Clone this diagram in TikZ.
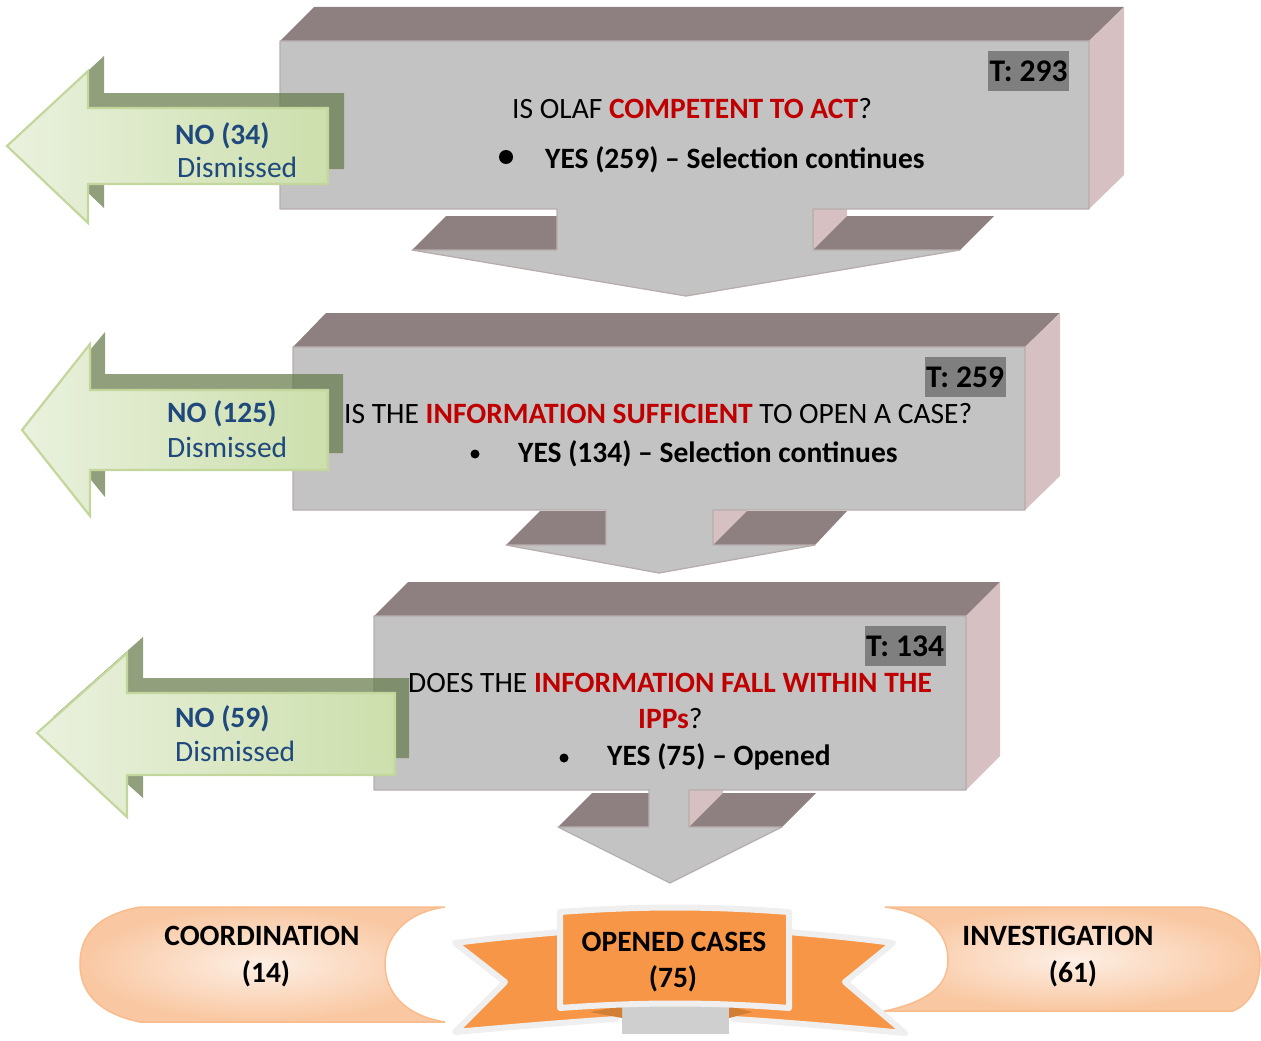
\documentclass[tikz,border=0pt]{standalone}
\usepackage{fontspec}
\setmainfont{Carlito}
\definecolor{boxfront}{HTML}{C3C3C3}
\definecolor{boxtop}{HTML}{8E8080}
\definecolor{boxside}{HTML}{D6C0C1}
\definecolor{boxedge}{HTML}{B8ADAD}
\definecolor{tgray}{HTML}{7F7F7F}
\definecolor{qred}{HTML}{C00000}
\definecolor{nblue}{HTML}{1F497D}
\definecolor{gl}{HTML}{EAF1DE}
\definecolor{gr}{HTML}{CCDFAC}
\definecolor{gb}{HTML}{C3D69B}
\definecolor{gsh}{HTML}{667A4B}
\definecolor{rorange}{HTML}{F79646}
\definecolor{rdark}{HTML}{D27E34}
\definecolor{rwhite}{HTML}{EFEFEF}
\definecolor{rgray}{HTML}{CFCFCF}
\definecolor{pin}{HTML}{FDEFE5}
\definecolor{pout}{HTML}{F9C7A1}
\definecolor{pedge}{HTML}{F9BC8C}
\begin{document}
\begin{tikzpicture}[x=1pt,y=-1pt,
  front/.style={fill=boxfront, draw=boxedge, line width=1.3pt, line join=round},
  topface/.style={fill=boxtop},
  sideface/.style={fill=boxside},
  garrow/.style={left color=gl, right color=gr, draw=gb, line width=2.2pt, line join=miter},
  gshadow/.style={fill=gsh, fill opacity=0.72},
  txt/.style={font=\fontsize{29.5}{35}\selectfont, anchor=base west, inner sep=0pt},
  btxt/.style={font=\fontsize{29.5}{35}\selectfont\bfseries, anchor=base west, inner sep=0pt},
  ctxt/.style={font=\fontsize{29.5}{35}\selectfont\bfseries, anchor=base, inner sep=0pt},
  tlabel/.style={font=\fontsize{31.5}{36}\selectfont\bfseries, fill=tgray, minimum width=81pt, minimum height=40pt, inner sep=0pt},
  notext/.style={font=\fontsize{29.5}{35}\selectfont, anchor=base west, inner sep=0pt, text=nblue},
  nobold/.style={notext, font=\fontsize{29.5}{35}\selectfont\bfseries},
  wing/.style={fill=rorange, draw=rwhite, line width=6pt, line join=round},
  scroll/.style={shading=radial, inner color=pin, outer color=pout, draw=pedge, line width=1.5pt},
  bul/.style={fill=black}
]
\useasboundingbox (0,0) rectangle (1261,1041);

% ---------- Box 1 ----------
\fill[topface] (280,41) -- (314,7) -- (1124,7) -- (1089,41) -- cycle;
\fill[sideface] (1089,41) -- (1124,7) -- (1124,175) -- (1089,209) -- cycle;
\fill[sideface] (813,209) -- (847,175) -- (847,216) -- (813,250) -- cycle;
\fill[topface] (412,250) -- (446,216) -- (557,216) -- (557,250) -- cycle;
\fill[topface] (813,250) -- (847,216) -- (994,216) -- (960,250) -- cycle;
\draw[front] (280,41) -- (1089,41) -- (1089,209) -- (813,209) -- (813,250) -- (960,250) -- (686,296) -- (412,250) -- (557,250) -- (557,209) -- (280,209) -- cycle;

% ---------- Box 2 ----------
\fill[topface] (293,347) -- (326,313) -- (1060,313) -- (1025,347) -- cycle;
\fill[sideface] (1025,347) -- (1060,313) -- (1060,476) -- (1025,510) -- cycle;
\fill[sideface] (713,510) -- (747,476) -- (747,511) -- (713,545) -- cycle;
\fill[topface] (506,545) -- (540,511) -- (606,511) -- (606,545) -- cycle;
\fill[topface] (713,545) -- (747,511) -- (847,511) -- (815,545) -- cycle;
\draw[front] (293,347) -- (1025,347) -- (1025,510) -- (713,510) -- (713,545) -- (815,545) -- (659,573) -- (506,545) -- (606,545) -- (606,510) -- (293,510) -- cycle;

% ---------- Box 3 ----------
\fill[topface] (374,616) -- (408,582) -- (1000,582) -- (966,616) -- cycle;
\fill[sideface] (966,616) -- (1000,582) -- (1000,756) -- (966,790) -- cycle;
\fill[sideface] (689,790) -- (723,756) -- (723,793) -- (689,827) -- cycle;
\fill[topface] (558,827) -- (592,793) -- (649,793) -- (649,827) -- cycle;
\fill[topface] (689,827) -- (723,793) -- (816,793) -- (782,827) -- cycle;
\draw[front] (374,616) -- (966,616) -- (966,790) -- (689,790) -- (689,827) -- (782,827) -- (670,883) -- (558,827) -- (649,827) -- (649,790) -- (374,790) -- cycle;

% ---------- Box texts ----------
\node[tlabel] (t1) at (1028.5,71) {T: 293};
\node[txt] (q1) at (512,118) {IS OLAF {\bfseries\color{qred}COMPETENT TO ACT}?};
\fill[bul] (506,157) circle (7);
\node[btxt] (y1) at (545,168) {YES (259) – Selection continues};

\node[tlabel] (t2) at (965,377) {T: 259};
\node[txt] (q2) at (344,423) {IS THE {\bfseries\color{qred}INFORMATION SUFFICIENT} TO OPEN A CASE?};
\fill[bul] (475,454) circle (4.5);
\node[btxt] (y2) at (518,462) {YES (134) – Selection continues};

\node[tlabel] (t3) at (905,646) {T: 134};
\node[txt] (q3a) at (408,692) {DOES THE {\bfseries\color{qred}INFORMATION FALL WITHIN THE}};
\node[txt] (q3b) at (638,728) {{\bfseries\color{qred}IPPs}?};
\fill[bul] (564,758) circle (4.5);
\node[btxt] (y3) at (607,765) {YES (75) – Opened};

% ---------- Green arrows ----------
\fill[gshadow] (23,131) -- (104,56) -- (104,93) -- (344,93) -- (344,169) -- (104,169) -- (104,208) -- cycle;
\draw[garrow] (7,146) -- (88,71) -- (88,108) -- (328,108) -- (328,184) -- (88,184) -- (88,223) -- cycle;
\node[nobold] (n1) at (175,144) {NO (34)};
\node[notext] (d1) at (177,177) {Dismissed};

\fill[gshadow] (37,414) -- (105,332) -- (105,374) -- (343,374) -- (343,453) -- (105,453) -- (105,497) -- cycle;
\draw[garrow] (22,430) -- (90,344) -- (90,390) -- (328,390) -- (328,470) -- (90,470) -- (90,516) -- cycle;
\node[nobold] (n2) at (167,422) {NO (125)};
\node[notext] (d2) at (167,457) {Dismissed};

\fill[gshadow] (53,717) -- (143,637) -- (143,678) -- (409,678) -- (409,758) -- (143,758) -- (143,798) -- cycle;
\draw[garrow] (37,733) -- (127,653) -- (127,693) -- (395,693) -- (395,775) -- (127,775) -- (127,817) -- cycle;
\node[nobold] (n3) at (175,727) {NO (59)};
\node[notext] (d3) at (175,761) {Dismissed};

% ---------- Bottom: scrolls ----------
\draw[scroll] (140,907) -- (445,907) .. controls (402,913) and (385,940) .. (385,964) .. controls (385,990) and (402,1015) .. (445,1022) -- (140,1022) .. controls (96,1013) and (80,990) .. (80,964) .. controls (80,936) and (96,915) .. (140,907) -- cycle;
\node[ctxt] (c1) at (262,945) {COORDINATION};
\node[ctxt] (c2) at (266,982) {(14)};

\draw[scroll] (885,907) -- (1200,907) .. controls (1240,911) and (1260,935) .. (1260,960) .. controls (1260,986) and (1250,1004) .. (1233,1011) -- (885,1011) .. controls (930,1001) and (948,985) .. (948,960) .. controls (948,934) and (930,913) .. (885,907) -- cycle;
\node[ctxt] (i1) at (1058,945) {INVESTIGATION};
\node[ctxt] (i2) at (1073,982) {(61)};

% ---------- Bottom: ribbon ----------
\fill[rgray] (622,1004) rectangle (729,1034);
\draw[wing] (600,929) .. controls (560,932) and (500,937) .. (455,943) -- (505,982) -- (455,1032) .. controls (510,1027) and (570,1022) .. (616,1019) -- cycle;
\draw[wing] (750,929) .. controls (790,932) and (850,937) .. (893,943) -- (845,982) -- (905,1033) .. controls (850,1028) and (785,1022) .. (733,1019) -- cycle;
\fill[rdark] (590,1012) -- (622,1006) -- (622,1018) -- cycle;
\fill[rdark] (729,1006) -- (752,1012) -- (729,1018) -- cycle;
\draw[wing] (560,912) .. controls (640,906) and (710,906) .. (789,912) -- (789,1008) .. controls (710,1002) and (640,1002) .. (560,1008) -- cycle;
\node[ctxt] (o1) at (674,951) {OPENED CASES};
\node[ctxt] (o2) at (673,987) {(75)};
\end{tikzpicture}
\end{document}
